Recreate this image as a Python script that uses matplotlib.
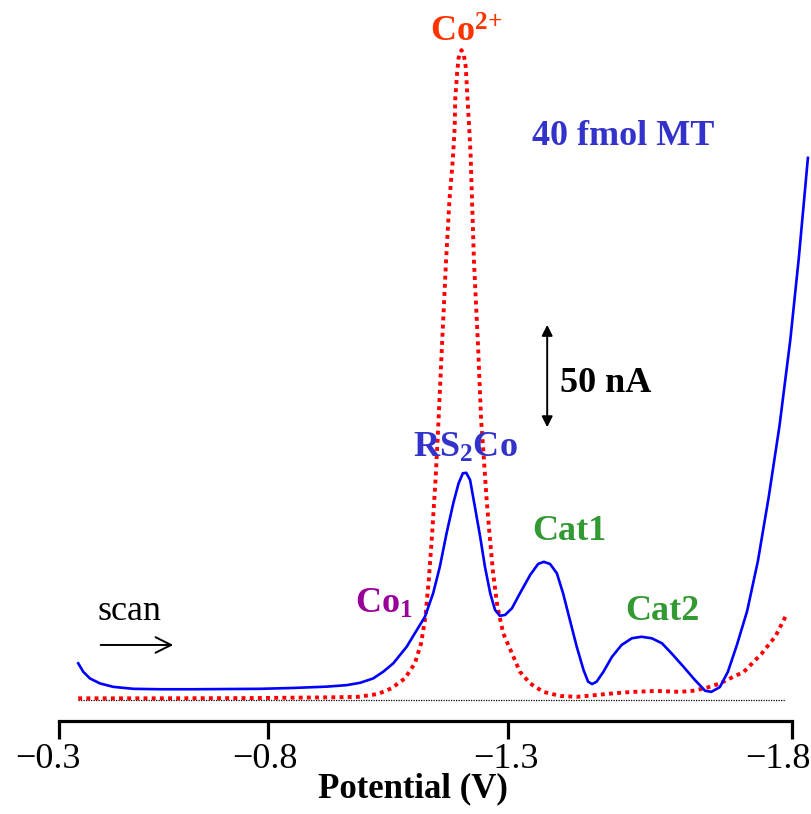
import numpy as np
import matplotlib as mpl
mpl.use('Agg')
import matplotlib.pyplot as plt
from matplotlib.transforms import ScaledTranslation

plt.rcParams['font.family'] = ['Liberation Serif', 'DejaVu Serif']
plt.rcParams['mathtext.fontset'] = 'custom'
plt.rcParams['mathtext.rm'] = 'Liberation Serif:bold'
plt.rcParams['mathtext.default'] = 'rm'

# potentials (V) and currents (nA)
mt_potential = [-0.346, -0.358, -0.374, -0.398, -0.430, -0.478, -0.542, -0.621,
                -0.701, -0.781, -0.853, -0.922, -0.964, -0.992, -1.019, -1.040,
                -1.061, -1.089, -1.110, -1.127, -1.144, -1.158, -1.172, -1.186,
                -1.197, -1.206, -1.213, -1.221, -1.231, -1.242, -1.252, -1.263,
                -1.273, -1.283, -1.294, -1.307, -1.321, -1.339, -1.353, -1.363,
                -1.374, -1.386, -1.397, -1.409, -1.421, -1.433, -1.441, -1.448,
                -1.456, -1.468, -1.483, -1.500, -1.518, -1.535, -1.553, -1.571,
                -1.588, -1.609, -1.629, -1.647, -1.658, -1.673, -1.687, -1.703,
                -1.721, -1.740, -1.759, -1.778, -1.797, -1.812, -1.828]
mt_current = [17.0, 13.1, 10.0, 7.7, 6.1, 5.2, 5.0, 5.0,
              5.1, 5.2, 5.6, 6.2, 6.9, 8.0, 10.0, 13.1,
              17.0, 24.7, 32.4, 38.6, 49.4, 61.7, 77.2, 91.1,
              100.3, 105.0, 105.2, 101.9, 89.5, 75.6, 61.7, 49.4,
              41.7, 39.0, 39.4, 42.5, 49.4, 57.9, 63.0, 64.0,
              63.0, 58.7, 49.4, 37.0, 24.7, 13.9, 8.5, 7.4,
              8.5, 13.1, 20.0, 25.5, 28.6, 29.3, 28.6, 26.3,
              21.6, 15.4, 9.3, 4.3, 3.8, 6.0, 13.0, 25.5,
              41.2, 64.4, 94.0, 127.0, 166.7, 204.7, 251.0]

co_potential = [-0.346, -0.518, -0.757, -0.946, -0.988, -1.029, -1.057, -1.085,
                -1.106, -1.119, -1.128, -1.135, -1.142, -1.149, -1.154, -1.163,
                -1.171, -1.178, -1.185, -1.189, -1.190, -1.194, -1.197, -1.203,
                -1.208, -1.212, -1.215, -1.219, -1.222, -1.229, -1.238, -1.244,
                -1.249, -1.255, -1.262, -1.269, -1.278, -1.290, -1.307, -1.321,
                -1.339, -1.362, -1.392, -1.421, -1.450, -1.485, -1.521, -1.562,
                -1.603, -1.626, -1.650, -1.673, -1.697, -1.715, -1.746, -1.771,
                -1.790]
co_current = [0.8, 0.8, 0.9, 1.3, 1.5, 2.8, 5.4, 10.0,
              17.0, 26.3, 38.6, 55.6, 77.2, 101.9, 123.5, 166.7,
              203.7, 231.5, 250.0, 265.4, 277.8, 290.3, 297.2, 300.9,
              298.6, 293.2, 280.9, 265.4, 253.1, 203.7, 162.0, 129.6,
              114.2, 94.1, 75.6, 58.7, 43.2, 30.9, 21.6, 13.1,
              7.7, 3.8, 1.9, 1.5, 2.2, 3.1, 3.8, 4.2,
              3.8, 4.3, 5.7, 7.7, 10.8, 13.0, 21.3, 29.6,
              39.4]

base_potential = [-0.345, -1.787]
tick_values = [-0.3, -0.8, -1.3, -1.8]
tick_labels = ['\u22120.3', '\u22120.8', '\u22121.3', '\u22121.8']

# the reference axis is not evenly spaced: piecewise-linear scale through the ticks
U = -np.array(tick_values)
P = np.array([59.0, 268.0, 508.0, 792.0])


def _pix(u):
    out = np.interp(u, U, P)
    out = np.where(u < U[0], P[0] + (u - U[0]) * (P[1] - P[0]) / (U[1] - U[0]), out)
    out = np.where(u > U[-1], P[-1] + (u - U[-1]) * (P[-1] - P[-2]) / (U[-1] - U[-2]), out)
    return out


def _unpix(p):
    out = np.interp(p, P, U)
    out = np.where(p < P[0], U[0] + (p - P[0]) * (U[1] - U[0]) / (P[1] - P[0]), out)
    out = np.where(p > P[-1], U[-1] + (p - P[-1]) * (U[-1] - U[-2]) / (P[-1] - P[-2]), out)
    return out


def fwd(v):
    return -_pix(-np.asarray(v, float))


def inv(q):
    return -_unpix(-np.asarray(q, float))


fig = plt.figure(figsize=(8.11, 8.14), dpi=100)
ax = fig.add_axes([59 / 811, 93 / 814, (792 - 59) / 811, 721 / 814])
ax.set_xscale('function', functions=(fwd, inv))
ax.set_xlim(-0.3, -1.8)
ax.set_ylim(-9.7, 324.1)

ax.plot(base_potential, [0, 0], color='black', lw=0.9, ls=(0, (1, 1)), clip_on=False)
ax.plot(co_potential, co_current, color='#ff0000', lw=2.8, ls=(0, (1, 1.1)),
        dash_capstyle='butt', clip_on=False)
ax.plot(mt_potential, mt_current, color='#0000ff', lw=1.9, clip_on=False,
        solid_joinstyle='round')

for s in ['left', 'top', 'right']:
    ax.spines[s].set_visible(False)
ax.spines['bottom'].set_linewidth(2.3)
ax.set_yticks([])
ax.set_xticks(tick_values)
ax.set_xticklabels(tick_labels, fontsize=26)
ax.tick_params(axis='x', direction='out', length=13, width=2.3, pad=3)
for lab, dx in zip(ax.get_xticklabels(), [-11, -3, -2, -14]):
    lab.set_transform(lab.get_transform() + ScaledTranslation(dx / 100, 0, fig.dpi_scale_trans))
ax.set_xlabel('Potential (V)', fontsize=25, fontweight='bold', labelpad=-3)
ax.xaxis.label.set_x(0.483)

bold = dict(fontsize=26, fontweight='bold', va='baseline', ha='left')
ax.text(-1.1375, 304.6, 'Co$^{2{+}}$', color='#ff3300', **bold)
ax.text(-1.342, 257.0, '40 fmol MT', color='#3333cc', **bold)
ax.text(-1.392, 142.6, '50 nA', color='black', **bold)
ax.text(-1.102, 112.5, 'RS$_2$Co', color='#3333cc', **bold)
ax.text(-1.342, 74.1, 'Cat1', color='#339933', **bold)
ax.text(-1.506, 37.0, 'Cat2', color='#339933', **bold)
ax.text(-0.981, 40.3, 'Co$_1$', color='#990099', **bold)
ax.text(-0.393, 37.0, 'scan', color='black', fontsize=26, va='baseline', ha='left')

ax.annotate('', xy=(-0.580, 25.5), xytext=(-0.393, 25.5),
            arrowprops=dict(arrowstyle='->', color='black', lw=1.4, mutation_scale=28))
ax.annotate('', xy=(-1.369, 175.0), xytext=(-1.369, 125.0),
            arrowprops=dict(arrowstyle='<|-|>', color='black', lw=1.4, mutation_scale=16))

fig.savefig('out.png', dpi=100)
